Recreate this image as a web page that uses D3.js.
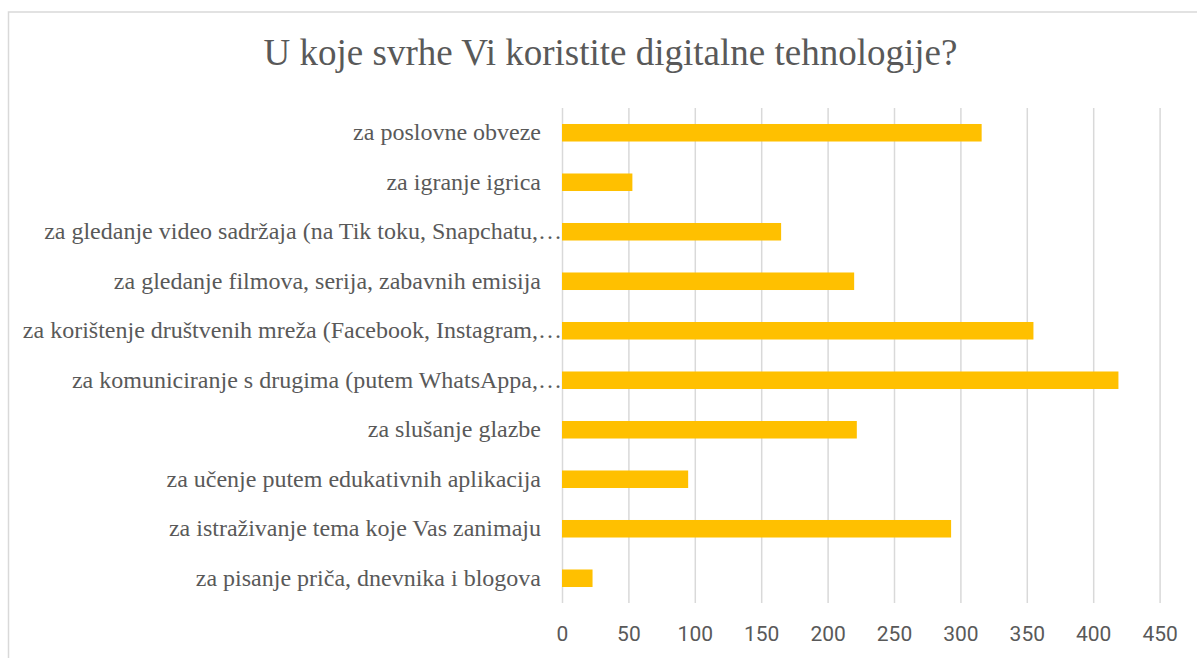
<!DOCTYPE html>
<html>
<head>
<meta charset="utf-8">
<script src="https://cdnjs.cloudflare.com/ajax/libs/d3/7.8.5/d3.min.js"></script>
<style>
    body { margin: 0; background: #ffffff; }
    .grid line { stroke: #d9d9d9; stroke-width: 1.5; }
    .grid path { display: none; }
    .x_axis path, .x_axis line { display: none; }
    .x_axis text { font-family: Roboto, "Liberation Sans", sans-serif; font-size: 21px; fill: #595959; }
    .cat_label { font-family: "Liberation Serif", "Times New Roman", serif; font-size: 24px; fill: #595959; }
</style>
</head>
<body>
<div id="chart"></div>
<script>
// categories top to bottom, as in the picture
var categories = [
    "za poslovne obveze",
    "za igranje igrica",
    "za gledanje video sadržaja (na Tik toku, Snapchatu,…",
    "za gledanje filmova, serija, zabavnih emisija",
    "za korištenje društvenih mreža (Facebook, Instagram,…",
    "za komuniciranje s drugima (putem WhatsAppa,…",
    "za slušanje glazbe",
    "za učenje putem edukativnih aplikacija",
    "za istraživanje tema koje Vas zanimaju",
    "za pisanje priča, dnevnika i blogova"
];
var counts = [316, 53, 165, 220, 355, 419, 222, 95, 293, 23];
var xTicks = [0, 50, 100, 150, 200, 250, 300, 350, 400, 450];
var chartTitle = "U koje svrhe Vi koristite digitalne tehnologije?";

var w = 1197;
var h = 658;
var plotLeft = 562;
var plotRight = 1159.6;
var plotTop = 108;
var plotBottom = 603;

var xScale = d3.scaleLinear().domain([0, 450]).range([plotLeft, plotRight]);
var yScale = d3.scaleBand().domain(categories).range([plotTop, plotBottom])
    .paddingInner(0.646).paddingOuter(0.323);

var xAxis = d3.axisBottom().scale(xScale).tickValues(xTicks).tickSize(0).tickPadding(0);

function DrawChart()
{
    var svg = d3.select("#chart")
        .append("svg")
        .attr("width", w)
        .attr("height", h);

    // chart area border (runs off the right and bottom edge)
    svg.append("rect")
        .attr("x", 8.5)
        .attr("y", 12)
        .attr("width", w + 20)
        .attr("height", h + 20)
        .attr("fill", "none")
        .attr("stroke", "#d9d9d9")
        .attr("stroke-width", 1.5);

    svg.append("text")
        .attr("x", 610.5)
        .attr("y", 65)
        .attr("text-anchor", "middle")
        .style("font-family", "'Liberation Serif', 'Times New Roman', serif")
        .style("font-size", "37px")
        .style("fill", "#595959")
        .text(chartTitle);

    svg.append("g")
        .attr("class", "grid")
        .attr("transform", "translate(0," + plotBottom + ")")
        .call(d3.axisBottom(xScale)
            .tickValues(xTicks)
            .tickSize(-(plotBottom - plotTop))
            .tickFormat("")
        );

    svg.selectAll("rect.bar")
        .data(counts)
        .enter().append("rect")
        .attr("class", "bar")
        .attr("x", xScale(0))
        .attr("y", function(d, i) { return yScale(categories[i]); })
        .attr("width", function(d) { return xScale(d) - xScale(0); })
        .attr("height", yScale.bandwidth())
        .attr("fill", "#ffc000");

    svg.selectAll("text.cat_label")
        .data(categories)
        .enter().append("text")
        .attr("class", "cat_label")
        .attr("x", function(d) {
            // truncated labels run up to the axis
            return d.endsWith("…") ? plotLeft : plotLeft - 21;
        })
        .attr("y", function(d) { return yScale(d) + yScale.bandwidth() / 2; })
        .attr("dy", "0.32em")
        .attr("text-anchor", "end")
        .text(function(d) { return d; });

    svg.append("g")
        .attr("class", "x_axis")
        .attr("transform", "translate(0,626)")
        .call(xAxis);
}

DrawChart();
</script>
</body>
</html>
